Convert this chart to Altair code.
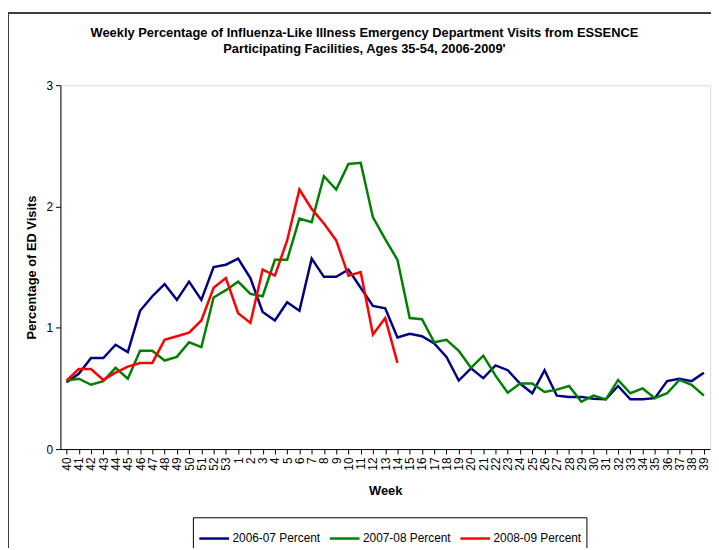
import altair as alt
import pandas as pd

weeks = ["40", "41", "42", "43", "44", "45", "46", "47", "48", "49", "50", "51", "52", "53",
         "1", "2", "3", "4", "5", "6", "7", "8", "9", "10", "11", "12", "13", "14", "15",
         "16", "17", "18", "19", "20", "21", "22", "23", "24", "25", "26", "27", "28", "29",
         "30", "31", "32", "33", "34", "35", "36", "37", "38", "39"]

s0607 = [0.55, 0.62, 0.75, 0.75, 0.86, 0.80, 1.14, 1.26, 1.36, 1.23, 1.38, 1.23, 1.50, 1.52,
         1.57, 1.41, 1.13, 1.06, 1.21, 1.14, 1.57, 1.42, 1.42, 1.48, 1.33, 1.18, 1.16, 0.92,
         0.95, 0.93, 0.87, 0.76, 0.565, 0.665, 0.585, 0.69, 0.65, 0.54, 0.46, 0.65, 0.44,
         0.43, 0.43, 0.415, 0.41, 0.52, 0.41, 0.41, 0.42, 0.56, 0.58, 0.56, 0.63]

s0708 = [0.565, 0.58, 0.53, 0.56, 0.67, 0.58, 0.81, 0.81, 0.73, 0.76, 0.88, 0.84, 1.25, 1.31,
         1.38, 1.28, 1.26, 1.56, 1.56, 1.90, 1.87, 2.25, 2.14, 2.35, 2.36, 1.91, 1.73, 1.56,
         1.08, 1.07, 0.88, 0.90, 0.81, 0.67, 0.77, 0.605, 0.465, 0.54, 0.54, 0.47, 0.49,
         0.52, 0.39, 0.44, 0.41, 0.57, 0.46, 0.50, 0.42, 0.46, 0.57, 0.53, 0.44]

s0809 = [0.565, 0.66, 0.66, 0.57, 0.63, 0.68, 0.71, 0.71, 0.90, 0.93, 0.96, 1.06, 1.33, 1.41,
         1.12, 1.04, 1.48, 1.43, 1.72, 2.14, 1.98, 1.86, 1.72, 1.43, 1.46, 0.945, 1.08, 0.71]

series_names = ["2006-07 Percent", "2007-08 Percent", "2008-09 Percent"]
series_colors = ["#000080", "#008000", "#FF0000"]

rows = []
for name, vals in zip(series_names, [s0607, s0708, s0809]):
    for i, v in enumerate(vals):
        rows.append({"week": weeks[i], "order": i, "series": name, "value": v})
df = pd.DataFrame(rows)

FONT = "Liberation Sans"
W, H = 657, 368

lines = alt.Chart(df).mark_line(strokeWidth=2.5).encode(
    x=alt.X("week:O", sort=weeks,
            scale=alt.Scale(type="point", padding=0.5),
            axis=alt.Axis(title="Week", labelAngle=270, labelFontSize=12, labelFont=FONT,
                          labelColor="black", labelOverlap=False, tickSize=5,
                          tickColor="#000000", domainColor="#000000", labelPadding=3,
                          titleFont=FONT, titleFontSize=13, titleFontWeight="bold",
                          titleColor="black", titlePadding=15)),
    y=alt.Y("value:Q", scale=alt.Scale(domain=[0, 3]),
            axis=alt.Axis(title="Percentage of ED Visits", values=[0, 1, 2, 3], grid=False,
                          labelFontSize=12, labelFont=FONT, labelColor="black",
                          tickSize=5, tickColor="#000000", domainColor="#000000",
                          labelPadding=3, titleFont=FONT, titleFontSize=13,
                          titleFontWeight="bold", titleColor="black", titlePadding=8)),
    color=alt.Color("series:N", sort=series_names,
                    scale=alt.Scale(domain=series_names, range=series_colors),
                    legend=alt.Legend(title=None, orient="none", legendX=134, legendY=437,
                                      direction="horizontal", symbolType="stroke",
                                      symbolSize=900, symbolStrokeWidth=2.5,
                                      labelFont=FONT, labelFontSize=12, labelColor="black",
                                      labelOffset=2, columnPadding=4, padding=5,
                                      gridAlign="none",
                                      strokeColor="black", fillColor="white")),
    order="order:Q",
)

border_left = alt.Chart(df).mark_rule(color="#404040", strokeWidth=1).encode(
    x=alt.value(-53), y=alt.value(-73), y2=alt.value(H + 100))
border_top = alt.Chart(df).mark_rule(color="#404040", strokeWidth=1).encode(
    x=alt.value(-53), x2=alt.value(W + 10), y=alt.value(-73))

chart = alt.layer(border_left, border_top, lines).properties(
    width=W, height=H,
    autosize=alt.AutoSizeParams(type="none"),
    padding={"left": 53, "top": 75, "right": 1, "bottom": 97},
    title=alt.TitleParams(
        text=["Weekly Percentage of Influenza-Like Illness Emergency Department Visits from ESSENCE",
              "Participating Facilities, Ages 35-54, 2006-2009'"],
        font=FONT, fontSize=13, fontWeight="bold", color="black", anchor="middle",
        frame="group", dx=-21, offset=-44, lineHeight=16),
).configure_view(stroke="#808080", strokeWidth=1).configure(background="white")

chart.save("out.html", embed_options={"renderer": "svg", "actions": False})
